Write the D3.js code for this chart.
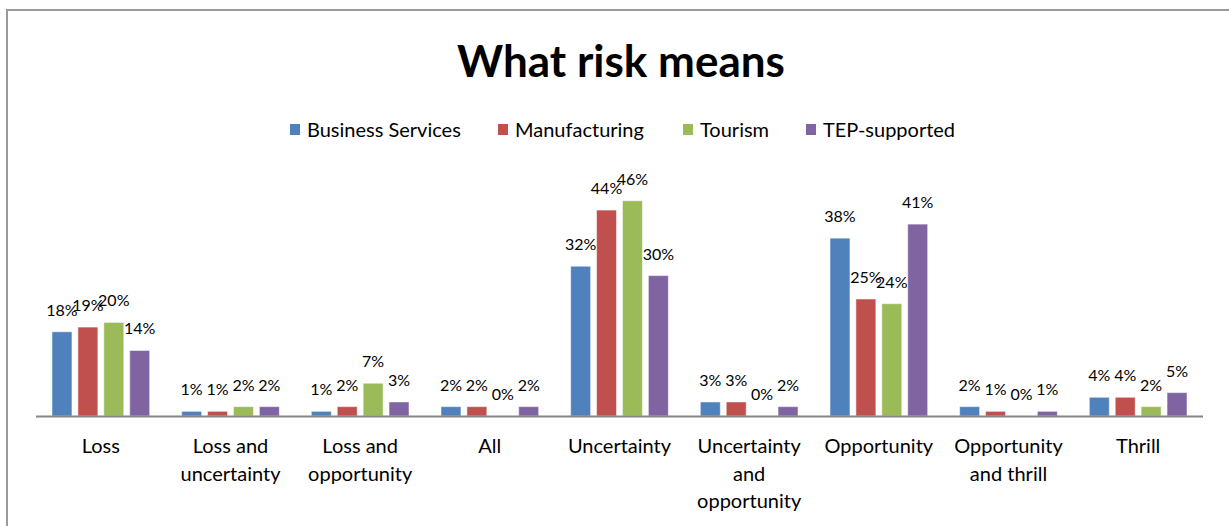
<!DOCTYPE html>
<html>
<head>
<meta charset="utf-8">
<script src="https://cdn.jsdelivr.net/npm/d3@7"></script>
<style>
  body { margin: 0; background: #fff; }
  text { font-family: Lato, "Open Sans", sans-serif; fill: #000; }
</style>
</head>
<body>
<div id="chart"></div>
<script>
var categories = ["Loss", "Loss and uncertainty", "Loss and opportunity", "All", "Uncertainty",
                  "Uncertainty and opportunity", "Opportunity", "Opportunity and thrill", "Thrill"]
var tickLines = [["Loss"], ["Loss and", "uncertainty"], ["Loss and", "opportunity"], ["All"], ["Uncertainty"],
                 ["Uncertainty", "and", "opportunity"], ["Opportunity"], ["Opportunity", "and thrill"], ["Thrill"]]
var series = ["Business Services", "Manufacturing", "Tourism", "TEP-supported"]
var colors = ["#4F81BD", "#C0504D", "#9BBB59", "#8064A2"]
var businessServices = [18, 1, 1, 2, 32, 3, 38, 2, 4]
var manufacturing    = [19, 1, 2, 2, 44, 3, 25, 1, 4]
var tourism          = [20, 2, 7, 0, 46, 0, 24, 0, 2]
var tepSupported     = [14, 2, 3, 2, 30, 2, 41, 1, 5]
var values = [businessServices, manufacturing, tourism, tepSupported]

var width = 1229, height = 526
var svg = d3.select('#chart').append('svg')
    .attr('width', width)
    .attr('height', height)

// chart frame
svg.append('path')
    .attr('d', 'M7,' + height + 'V10H' + width)
    .attr('fill', 'none')
    .attr('stroke', '#9a9a9a')
    .attr('stroke-width', 2)

var x0 = d3.scaleBand().domain(categories).range([36, 1203])
var x1 = d3.scaleBand().domain(series).range([16, x0.bandwidth() - 16]).paddingInner(0.23)
var y = d3.scaleLinear().domain([0, 50]).range([416, 182])

svg.append('text')
    .attr('x', 621)
    .attr('y', 77)
    .attr('text-anchor', 'middle')
    .attr('font-size', 44)
    .attr('font-weight', 'bold')
    .text('What risk means')

// legend
var legendX = [290, 498, 683, 806]
var legend = svg.selectAll('.legend').data(series).enter().append('g')
    .attr('transform', function(d, i) { return 'translate(' + legendX[i] + ',130)' })
legend.append('rect')
    .attr('x', 0).attr('y', -6)
    .attr('width', 10).attr('height', 11)
    .attr('fill', function(d, i) { return colors[i] })
legend.append('text')
    .attr('x', 17).attr('y', 7)
    .attr('font-size', 20)
    .text(function(d) { return d })

// bars
var groups = svg.selectAll('.series').data(series).enter().append('g')
groups.each(function(s, si) {
    var g = d3.select(this)
    g.selectAll('rect').data(values[si]).enter().append('rect')
        .attr('x', function(d, i) { return x0(categories[i]) + x1(s) })
        .attr('y', function(d) { return y(d) })
        .attr('width', x1.bandwidth())
        .attr('height', function(d) { return y(0) - y(d) })
        .attr('fill', colors[si])
        .attr('stroke', '#fff')
        .attr('stroke-opacity', 0.5)
        .attr('stroke-width', 1)
    g.selectAll('text').data(values[si]).enter().append('text')
        .attr('x', function(d, i) { return x0(categories[i]) + x1(s) + x1.bandwidth() / 2 })
        .attr('y', function(d) { return y(d) - 16 })
        .attr('text-anchor', 'middle')
        .attr('font-size', 16)
        .text(function(d) { return d + '%' })
})

// category axis
svg.append('line')
    .attr('x1', 36).attr('x2', 1203)
    .attr('y1', 416.5).attr('y2', 416.5)
    .attr('stroke', '#868686')
    .attr('stroke-width', 2)

var ticks = svg.selectAll('.tick').data(categories).enter().append('text')
    .attr('x', function(d) { return x0(d) + x0.bandwidth() / 2 })
    .attr('y', 453)
    .attr('text-anchor', 'middle')
    .attr('font-size', 20)
ticks.each(function(d, i) {
    var t = d3.select(this)
    tickLines[i].forEach(function(line, k) {
        t.append('tspan')
            .attr('x', x0(d) + x0.bandwidth() / 2)
            .attr('dy', k === 0 ? 0 : 27.5)
            .text(line)
    })
})
</script>
</body>
</html>
